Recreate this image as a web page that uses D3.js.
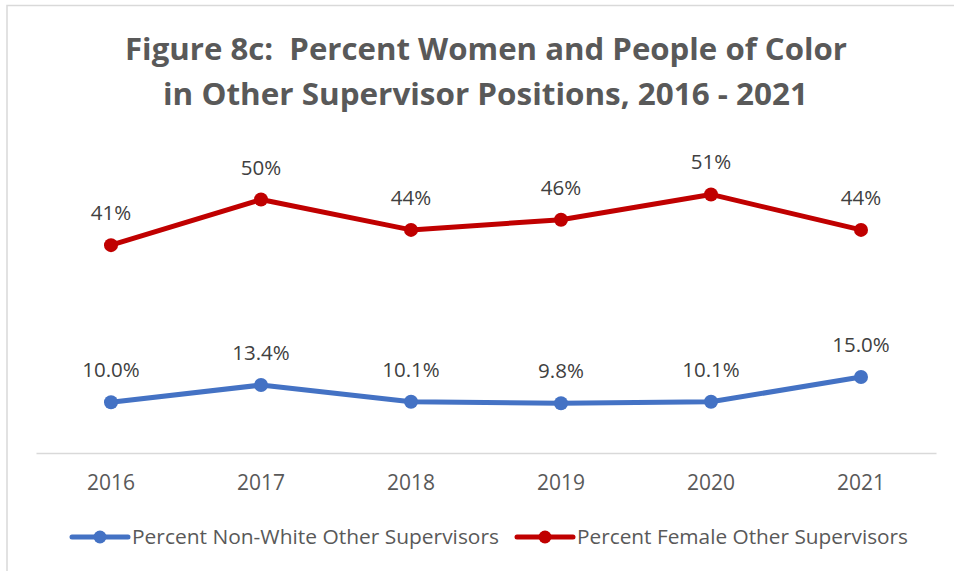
<!DOCTYPE html>
<html>
<head>
<meta charset="utf-8">
<script src="https://cdn.jsdelivr.net/npm/d3@7"></script>
<style>
  html, body { margin: 0; padding: 0; background: #fff; }
  svg { display: block; font-family: "Open Sans", "Noto Sans", sans-serif; }
  .title { white-space: pre; }
</style>
</head>
<body>
<svg id="chart" width="954" height="571"></svg>
<script>
// Years on the category axis
const years = ["2016", "2017", "2018", "2019", "2020", "2021"];
// Percent female other supervisors
const femaleValues = [41, 50, 44, 46, 51, 44];
const femaleLabels = ["41%", "50%", "44%", "46%", "51%", "44%"];
// Percent non-white other supervisors
const nonWhiteValues = [10.0, 13.4, 10.1, 9.8, 10.1, 15.0];
const nonWhiteLabels = ["10.0%", "13.4%", "10.1%", "9.8%", "10.1%", "15.0%"];
// Legend entries
const seriesNames = ["Percent Non-White Other Supervisors", "Percent Female Other Supervisors"];
const titleLines = ["Figure 8c:  Percent Women and People of Color", "in Other Supervisor Positions, 2016 - 2021"];

const BLUE = "#4472C4", RED = "#C00000";

const svg = d3.select("#chart");

// Outer chart frame (only top and left edges fall inside the view)
svg.append("rect")
  .attr("x", 7).attr("y", 5.5)
  .attr("width", 1000).attr("height", 1000)
  .attr("fill", "none").attr("stroke", "#D9D9D9").attr("stroke-width", 1.5);

// Title
const title = svg.append("g");
title.append("text")
  .attr("class", "title")
  .attr("x", 486).attr("y", 60)
  .attr("text-anchor", "middle")
  .attr("font-size", 31).attr("font-weight", 700).attr("fill", "#595959")
  .attr("textLength", 722).attr("lengthAdjust", "spacingAndGlyphs")
  .text(titleLines[0]);
title.append("text")
  .attr("class", "title")
  .attr("x", 485.5).attr("y", 105)
  .attr("text-anchor", "middle")
  .attr("font-size", 31).attr("font-weight", 700).attr("fill", "#595959")
  .attr("textLength", 645).attr("lengthAdjust", "spacingAndGlyphs")
  .text(titleLines[1]);

// Scales
const x = d3.scaleBand().domain(years).range([36, 936]);
const y = d3.scaleLinear().domain([0, 60]).range([453, 148.8]);
const cx = d => x(d) + x.bandwidth() / 2;

// Category axis: baseline and year labels
const xAxis = svg.append("g")
  .attr("transform", `translate(0,${y(0)})`)
  .call(d3.axisBottom(x).tickSize(0).tickPadding(22));
xAxis.select(".domain").attr("stroke", "#D9D9D9").attr("stroke-width", 1.5);
xAxis.selectAll("text")
  .attr("font-family", "'Open Sans', sans-serif")
  .attr("font-size", 21).attr("fill", "#595959");

// Series
const series = [
  { name: seriesNames[1], values: femaleValues, labels: femaleLabels, color: RED },
  { name: seriesNames[0], values: nonWhiteValues, labels: nonWhiteLabels, color: BLUE }
];

const line = d3.line().x(d => cx(d.year)).y(d => y(d.value));

series.forEach(s => {
  const pts = years.map((yr, i) => ({ year: yr, value: s.values[i], label: s.labels[i] }));
  const g = svg.append("g");
  g.append("path")
    .datum(pts)
    .attr("d", line)
    .attr("fill", "none")
    .attr("stroke", s.color)
    .attr("stroke-width", 5)
    .attr("stroke-linejoin", "round");
  g.selectAll("circle").data(pts).join("circle")
    .attr("cx", d => cx(d.year)).attr("cy", d => y(d.value))
    .attr("r", 7).attr("fill", s.color);
  g.selectAll("text").data(pts).join("text")
    .attr("x", d => cx(d.year)).attr("y", d => y(d.value) - 25)
    .attr("text-anchor", "middle")
    .attr("font-size", 20.5).attr("fill", "#404040")
    .text(d => d.label);
});

// Legend
const legendItems = [
  { name: seriesNames[0], color: BLUE, x0: 72, len: 367 },
  { name: seriesNames[1], color: RED, x0: 517, len: 331 }
];
const legend = svg.append("g");
legendItems.forEach(it => {
  const g = legend.append("g").attr("transform", `translate(${it.x0},537)`);
  g.append("line").attr("x1", 0).attr("x2", 56).attr("y1", 0).attr("y2", 0)
    .attr("stroke", it.color).attr("stroke-width", 5).attr("stroke-linecap", "round");
  g.append("circle").attr("cx", 28).attr("cy", 0).attr("r", 6.5).attr("fill", it.color);
  g.append("text").attr("x", 60).attr("y", 7)
    .attr("font-size", 19.5).attr("fill", "#595959")
    .attr("textLength", it.len).attr("lengthAdjust", "spacingAndGlyphs")
    .text(it.name);
});
</script>
</body>
</html>
